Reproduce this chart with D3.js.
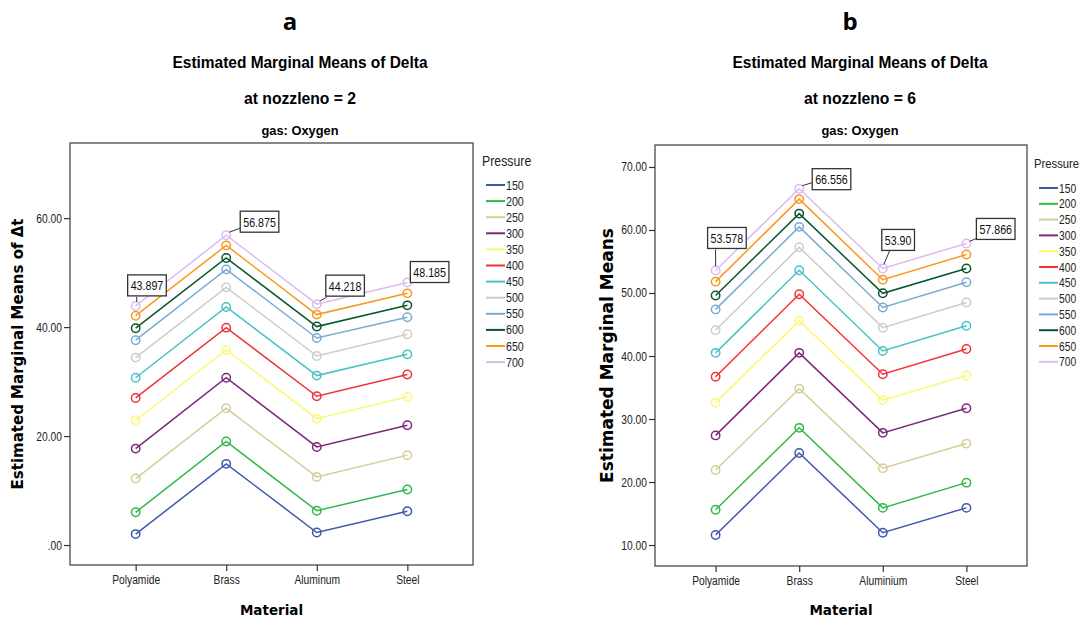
<!DOCTYPE html>
<html>
<head>
<meta charset="utf-8">
<script src="https://cdn.jsdelivr.net/npm/d3@7"></script>
<style>
  body { margin: 0; background: #fff; }
  svg { display: block; }
  .narrow { font-family: "Liberation Sans", Arial, sans-serif; }
</style>
</head>
<body>
<div id="chart"></div>
<script>
const pressures = [150, 200, 250, 300, 350, 400, 450, 500, 550, 600, 650, 700];
const COLORS = ['#3e58ac', '#2eb848', '#d3ce97', '#7c287d', '#fbf873', '#ef3338',
                '#48c2c5', '#cccccc', '#7aaad5', '#0a562c', '#f8981d', '#ddbaf1'];

const materialsA = ['Polyamide', 'Brass', 'Aluminum', 'Steel'];
const materialsB = ['Polyamide', 'Brass', 'Aluminium', 'Steel'];

// one row per pressure, columns follow the materials
const valuesA = [
  [2.0, 14.9, 2.3, 6.2],
  [6.0, 19.0, 6.3, 10.2],
  [12.2, 25.1, 12.5, 16.5],
  [17.7, 30.7, 18.0, 22.0],
  [22.9, 35.8, 23.2, 27.2],
  [27.0, 39.9, 27.3, 31.3],
  [30.7, 43.7, 31.1, 35.0],
  [34.4, 47.3, 34.7, 38.7],
  [37.6, 50.6, 38.0, 41.8],
  [39.8, 52.7, 40.1, 44.0],
  [42.1, 55.0, 42.3, 46.2],
  [43.897, 56.875, 44.218, 48.185]
];
const valuesB = [
  [11.6, 24.6, 11.95, 15.9],
  [15.6, 28.6, 15.9, 19.9],
  [21.9, 34.8, 22.2, 26.1],
  [27.4, 40.5, 27.8, 31.7],
  [32.6, 45.6, 33.0, 36.9],
  [36.7, 49.8, 37.1, 41.1],
  [40.5, 53.6, 40.8, 44.8],
  [44.1, 57.25, 44.5, 48.5],
  [47.4, 60.5, 47.7, 51.7],
  [49.6, 62.6, 49.95, 53.9],
  [51.8, 64.9, 52.1, 56.1],
  [53.578, 66.556, 53.90, 57.866]
];

const ticksA = [0, 20, 40, 60];
const ticksB = [10, 20, 30, 40, 50, 60, 70];
const labelsA = ['43.897', '56.875', '44.218', '48.185'];
const labelsB = ['53.578', '66.556', '53.90', '57.866'];

const W = 1086, H = 624;
const NARROW = 0.82; // Arial Narrow is roughly 82% of Arial's width

const svg = d3.select('#chart').append('svg')
  .attr('width', W).attr('height', H)
  .attr('viewBox', [0, 0, W, H]);

const spssFormat = v => d3.format('.2f')(v).replace(/^0\./, '.');

// squeeze text horizontally, either by a factor or to a fixed width
const condense = (sel, f, width) => {
  sel.each(function() {
    const len = width || this.getComputedTextLength() * f;
    d3.select(this).attr('textLength', len).attr('lengthAdjust', 'spacingAndGlyphs');
  });
  return sel;
};

const panels = [
  {
    letter: 'a', nozzle: 2, materials: materialsA, values: valuesA, ticks: ticksA, labels: labelsA,
    box: [70, 143, 473, 565], domain: [-3.67, 73.8], cx: 300,
    yTitle: 'Estimated Marginal Means of Δt', yTitleX: 23, yTitleSize: 15,
    legend: { titleX: 482, titleY: 161, lineX: 486, firstY: 185, step: 16.1, titleSize: 15, titleSqueeze: NARROW, itemSize: 13 },
    // callout box offset from its point: [left, top, leader x1, y1, x2, y2]
    callouts: [[-8, -31, 1, -4, 1, -9], [14, -24, 3, -3, 14, -7], [9, -29, 3, -3, 10, -7], [3, -21, 0, 0, 0, 0]]
  },
  {
    letter: 'b', nozzle: 6, materials: materialsB, values: valuesB, ticks: ticksB, labels: labelsB,
    box: [655, 145, 1027, 566], domain: [6.67, 73.49], cx: 860,
    yTitle: 'Estimated Marginal Means', yTitleX: 613, yTitleSize: 17,
    legend: { titleX: 1034, titleY: 163, lineX: 1039, firstY: 188, step: 15.8, titleSize: 12.5, titleSqueeze: 0.9, itemSize: 12.5 },
    callouts: [[-8, -43, 0, -4, 0, -21], [13, -20, 3, -3, 13, -6], [-1, -39, 1, -4, 7, -18], [10, -25, 3, -2, 10, -5]]
  }
];

function drawPanel(p) {
  const [x0, y0, x1, y1] = p.box;
  const g = svg.append('g');

  const x = d3.scalePoint().domain(p.materials).range([x0, x1]).padding(0.725);
  const y = d3.scaleLinear().domain(p.domain).range([y1, y0]);

  // headings
  g.append('text').attr('x', p.cx - 10).attr('y', 30)
    .attr('text-anchor', 'middle')
    .style('font-family', '"Open Sans", sans-serif').style('font-weight', 'bold').style('font-size', '24px')
    .text(p.letter);
  condense(g.append('text').attr('class', 'narrow').attr('x', p.cx).attr('y', 68)
    .attr('text-anchor', 'middle').style('font-weight', 'bold').style('font-size', '17px')
    .text('Estimated Marginal Means of Delta'), 0, 255);
  condense(g.append('text').attr('class', 'narrow').attr('x', p.cx).attr('y', 104)
    .attr('text-anchor', 'middle').style('font-weight', 'bold').style('font-size', '17px')
    .text(`at nozzleno = ${p.nozzle}`), 0, 112);
  condense(g.append('text').attr('class', 'narrow').attr('x', p.cx).attr('y', 135)
    .attr('text-anchor', 'middle').style('font-weight', 'bold').style('font-size', '13px')
    .text('gas: Oxygen'), 0, 77);

  // frame
  g.append('rect').attr('x', x0).attr('y', y0).attr('width', x1 - x0).attr('height', y1 - y0)
    .attr('fill', 'none').attr('stroke', '#4a4a4a').attr('stroke-width', 1.3);

  const yAxis = g.append('g').attr('class', 'narrow')
    .attr('transform', `translate(${x0},0)`)
    .call(d3.axisLeft(y).tickValues(p.ticks).tickFormat(spssFormat).tickSize(6).tickPadding(2));
  const xAxis = g.append('g').attr('class', 'narrow')
    .attr('transform', `translate(0,${y1})`)
    .call(d3.axisBottom(x).tickSize(6).tickPadding(4));
  [yAxis, xAxis].forEach(ax => {
    ax.select('.domain').remove();
    ax.selectAll('.tick line').attr('stroke', '#333').attr('stroke-width', 1.2);
    condense(ax.selectAll('.tick text').attr('fill', '#222')
      .style('font-size', '12.5px').style('font-family', '"Liberation Sans", Arial, sans-serif'), NARROW);
  });

  // axis titles
  g.append('text')
    .attr('transform', `translate(${p.yTitleX},${(y0 + y1) / 2}) rotate(-90)`)
    .attr('text-anchor', 'middle')
    .style('font-family', '"DejaVu Sans", sans-serif').style('font-weight', 'bold')
    .style('font-size', p.yTitleSize + 'px')
    .text(p.yTitle);
  g.append('text').attr('x', (x(p.materials[0]) + x(p.materials[3])) / 2).attr('y', 615)
    .attr('text-anchor', 'middle')
    .style('font-family', '"DejaVu Sans", sans-serif').style('font-weight', 'bold').style('font-size', '13.5px')
    .text('Material');

  // series
  const line = d3.line().x((d, i) => x(p.materials[i])).y(d => y(d));
  const series = g.append('g').selectAll('g')
    .data(p.values)
    .join('g')
      .attr('stroke', (d, i) => COLORS[i])
      .attr('fill', 'none')
      .attr('stroke-width', 1.5);
  series.append('path').attr('d', d => line(d));
  series.selectAll('circle')
    .data(d => d)
    .join('circle')
      .attr('cx', (d, i) => x(p.materials[i]))
      .attr('cy', d => y(d))
      .attr('r', 4.2);

  // value callouts on the top series
  const top = p.values[p.values.length - 1];
  p.callouts.forEach((c, i) => {
    const px = x(p.materials[i]), py = y(top[i]);
    const cg = g.append('g');
    if (c[4] !== c[2] || c[5] !== c[3]) {
      cg.append('line')
        .attr('x1', px + c[2]).attr('y1', py + c[3])
        .attr('x2', px + c[4]).attr('y2', py + c[5])
        .attr('stroke', '#333').attr('stroke-width', 1);
    }
    const rect = cg.append('rect').attr('fill', '#fff').attr('stroke', '#333').attr('stroke-width', 1.3);
    const t = cg.append('text').attr('class', 'narrow')
      .style('font-size', '13px').attr('fill', '#111')
      .attr('x', px + c[0] + 3).attr('y', py + c[1] + 15.5)
      .text(p.labels[i]);
    const w = t.node().getComputedTextLength() * NARROW;
    condense(t, 0, w);
    rect.attr('x', px + c[0]).attr('y', py + c[1]).attr('width', w + 6).attr('height', 21);
  });

  // legend
  const L = p.legend;
  const lg = g.append('g').attr('class', 'narrow');
  condense(lg.append('text').attr('x', L.titleX).attr('y', L.titleY + 5)
    .style('font-size', L.titleSize + 'px').attr('fill', '#222').text('Pressure'), L.titleSqueeze);
  const items = lg.selectAll('g.item')
    .data(pressures)
    .join('g')
      .attr('class', 'item')
      .attr('transform', (d, i) => `translate(${L.lineX},${L.firstY + i * L.step})`);
  items.append('line').attr('x1', 0).attr('x2', 19)
    .attr('stroke', (d, i) => COLORS[i]).attr('stroke-width', 2);
  condense(items.append('text').attr('x', 20).attr('y', 4.5)
    .style('font-size', L.itemSize + 'px').attr('fill', '#222')
    .text(d => d), NARROW);
}

panels.forEach(drawPanel);
</script>
</body>
</html>
